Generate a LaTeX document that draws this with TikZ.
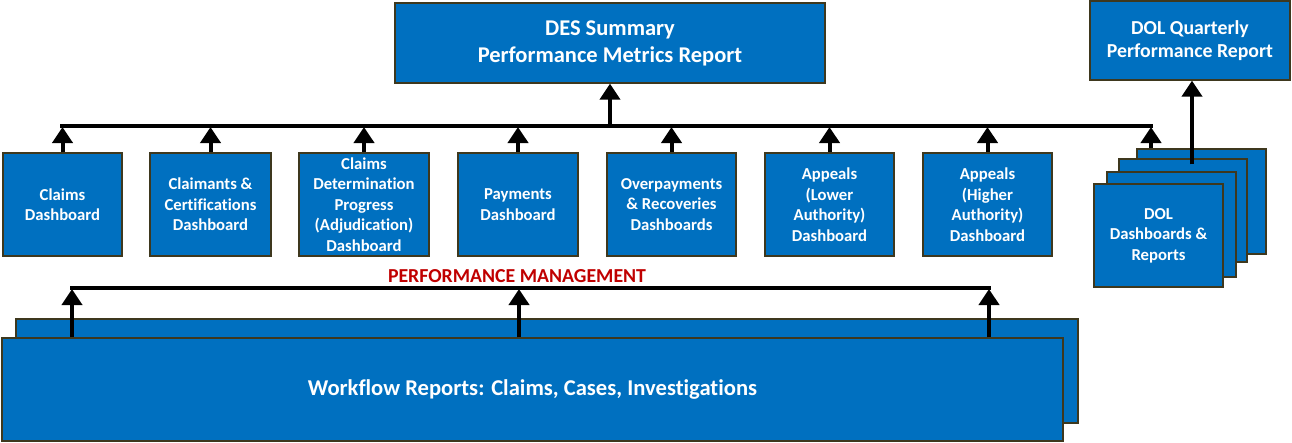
\documentclass[tikz,border=0pt]{standalone}
\usepackage{fontspec}
\setmainfont{Carlito}[Ligatures={NoCommon}]
\usetikzlibrary{arrows.meta}
\definecolor{boxblue}{RGB}{0,112,192}
\definecolor{boxedge}{RGB}{62,56,30}
\definecolor{pmred}{RGB}{192,0,0}
\tikzset{
  box/.style={draw=boxedge, fill=boxblue, line width=1.3pt, text=white,
    align=center, inner sep=0pt, font=\bfseries\fontsize{16.7}{20.5}\selectfont},
  bigbox/.style={box, font=\bfseries\fontsize{22.5}{27}\selectfont},
  busline/.style={line width=4pt, line cap=rect},
  uparrow/.style={line width=4pt, -{Triangle[width=20pt,length=16pt]}},
}
\begin{document}
\begin{tikzpicture}[x=1pt,y=-1pt]
\useasboundingbox (0,0) rectangle (1292,442);

% summary reports
\node[bigbox, minimum width=430pt, minimum height=80pt] (des) at (610,43)
  {DES Summary\\Performance Metrics Report};
\node[box, font=\bfseries\fontsize{19.8}{23.5}\selectfont,
  minimum width=200pt, minimum height=79pt] (dolq) at (1190,40.5)
  {DOL Quarterly\\Performance Report};

% dashboards
\node[box, minimum width=119pt, minimum height=103pt] (claims) at (62.5,204.5)
  {Claims\\Dashboard};
\node[box, minimum width=121pt, minimum height=103pt] (claimants) at (210.5,204.5)
  {Claimants \&\\Certifications\\Dashboard};
\node[box, minimum width=130pt, minimum height=103pt] (adjud) at (364,204.5)
  {Claims\\Determination\\Progress\\(Adjudication)\\Dashboard};
\node[box, minimum width=120pt, minimum height=103pt] (payments) at (518,204.5)
  {Payments\\Dashboard};
\node[box, minimum width=129pt, minimum height=103pt] (overpay) at (671.5,204.5)
  {Overpayments\\\& Recoveries\\Dashboards};
\node[box, minimum width=129pt, minimum height=103pt] (lower) at (829.5,204.5)
  {Appeals\\(Lower\\Authority)\\Dashboard};
\node[box, minimum width=129pt, minimum height=103pt] (higher) at (987.5,204.5)
  {Appeals\\(Higher\\Authority)\\Dashboard};

% stacked DOL dashboards
\node[box, minimum width=129pt, minimum height=105pt] (dola) at (1201.5,201.5) {};
\node[box, minimum width=128pt, minimum height=103pt] (dolb) at (1183,210.5) {};
\node[box, minimum width=129pt, minimum height=105pt] (dolc) at (1171.5,224.5) {};
\node[box, minimum width=129pt, minimum height=103pt] (dold) at (1158.5,235.5)
  {DOL\\Dashboards \&\\Reports};

% stacked workflow reports
\node[box, minimum width=1062pt, minimum height=104pt] (wfback) at (547,371) {};
\node[box, font=\bfseries\fontsize{22.6}{26}\selectfont,
  minimum width=1061pt, minimum height=103pt] (wf) at (532.5,389.5)
  {Workflow Reports: Claims, Cases, Investigations};

% upper collector bus
\coordinate (busL) at (62,126);
\coordinate (busR) at (1151,126);
\draw[busline] (busL) -- (busR);
\foreach \b in {claims,claimants,adjud,payments,overpay,lower,higher}
  \draw[uparrow] (\b.north) -- ([yshift=-1pt]\b.north |- busL);
\draw[uparrow] (dola.north -| busR) -- ([yshift=-1pt]busR);
\draw[uparrow] (des.south |- busL) -- (des.south);
\draw[uparrow] ([xshift=2pt,yshift=-6pt]dolb.north -| dolq.south) -- ([xshift=2pt]dolq.south);

% performance management bus
\node[text=pmred, font=\bfseries\fontsize{19.8}{22}\selectfont, inner sep=0pt]
  (pm) at (517,276) {PERFORMANCE MANAGEMENT};
\coordinate (pmL) at (72,288);
\coordinate (pmM) at (519,288);
\coordinate (pmR) at (989,288);
\draw[busline] (pmL) -- (pmR);
\foreach \c in {pmL,pmM,pmR}
  \draw[uparrow] (wf.north -| \c) -- ([yshift=-1pt]\c);
\end{tikzpicture}
\end{document}
